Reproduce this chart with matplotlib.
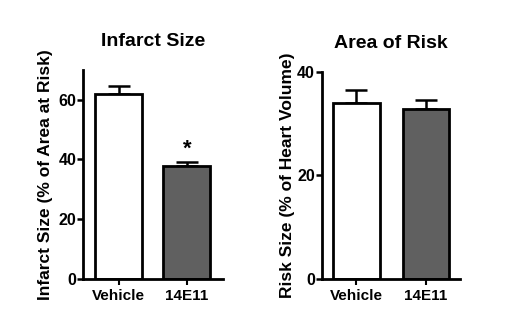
import numpy as np
import matplotlib.pyplot as plt

plt.rcParams['font.family'] = ['Liberation Sans', 'DejaVu Sans']
plt.rcParams['font.weight'] = 'bold'

groups = ["Vehicle", "14E11"]
infarct_mean = [62.0, 37.9]
infarct_sem = [2.6, 1.3]
risk_mean = [34.0, 32.9]
risk_sem = [2.4, 1.7]
bar_colors = ["white", "#606060"]

fig = plt.figure(figsize=(5.2, 3.31), dpi=100)
ax1 = fig.add_axes([0.160, 0.157, 0.269, 0.632])
ax2 = fig.add_axes([0.619, 0.157, 0.266, 0.626])

def draw_panel(ax, means, sems, title, ylabel, ylim, yticks, xlim, width, labelpad):
    x = np.arange(len(groups))
    ax.bar(x, means, width=width, color=bar_colors, edgecolor="black",
           linewidth=2, zorder=2)
    ax.errorbar(x, means, yerr=[[0] * len(sems), sems], fmt="none",
                ecolor="black", elinewidth=1.8, capsize=8, capthick=1.8, zorder=1)
    ax.set_xlim(*xlim)
    ax.set_ylim(*ylim)
    ax.set_yticks(yticks)
    ax.set_xticks(x)
    ax.set_xticklabels(groups, fontsize=11, fontweight="bold")
    ax.tick_params(axis="y", labelsize=11.5, width=1.8, length=4, pad=1)
    ax.tick_params(axis="x", width=1.5, length=4, pad=3)
    for s in ["top", "right"]:
        ax.spines[s].set_visible(False)
    for s in ["left", "bottom"]:
        ax.spines[s].set_linewidth(2)
    ax.set_title(title, fontsize=14, fontweight="bold", pad=17)
    ax.set_ylabel(ylabel, fontsize=12.5, fontweight="bold", labelpad=labelpad)

draw_panel(ax1, infarct_mean, infarct_sem, "Infarct Size",
           "Infarct Size (% of Area at Risk)", (0, 70), [0, 20, 40, 60],
           (-0.52, 1.53), 0.69, 4)
draw_panel(ax2, risk_mean, risk_sem, "Area of Risk",
           "Risk Size (% of Heart Volume)", (0, 40), [0, 20, 40],
           (-0.49, 1.49), 0.67, 1.5)

# significance marker
ax1.text(1, infarct_mean[1] + infarct_sem[1] + 0.8, "*", ha="center",
         va="bottom", fontsize=16, fontweight="bold")

fig.savefig("out.png", dpi=100)
